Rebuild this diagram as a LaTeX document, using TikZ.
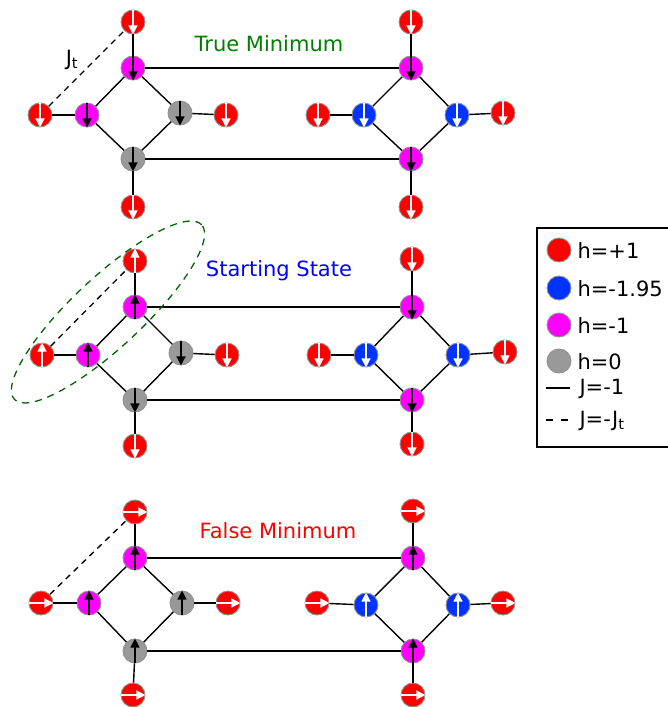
\documentclass[tikz,border=0pt]{standalone}
\usepackage{fontspec}
\setmainfont{DejaVu Sans}
\usetikzlibrary{arrows.meta}

\definecolor{hpos}{RGB}{255,0,0}
\definecolor{hblu}{RGB}{0,51,255}
\definecolor{hneg}{RGB}{255,0,255}
\definecolor{hnul}{RGB}{153,153,153}
\definecolor{rim}{RGB}{145,145,145}
\definecolor{truegreen}{RGB}{0,128,0}
\definecolor{loopgreen}{RGB}{0,100,0}

\tikzset{
  site/.style={circle, draw=rim, line width=0.9pt, minimum size=24pt, inner sep=0pt},
  site pos/.style={site, fill=hpos},
  site blu/.style={site, fill=hblu},
  site neg/.style={site, fill=hneg},
  site nul/.style={site, fill=hnul},
  spin/.style={line width=1.3pt, -{Triangle[length=9pt,width=9pt]}, shorten <=0.6pt},
  spin pos/.style={spin, white},
  spin blu/.style={spin, white},
  spin neg/.style={spin, black},
  spin nul/.style={spin, black},
  bond/.style={line width=1.4pt},
  tbond/.style={line width=1.3pt, dash pattern=on 6pt off 5pt},
  lbl/.style={font=\fontsize{21}{25}\selectfont}
}

\begin{document}
\begin{tikzpicture}[x=1pt, y=-1pt]
    \useasboundingbox (0,0) rectangle (668,707);

    % Sites and spins
    \foreach \n/\x/\y/\k/\a/\b in {
        TLa/133/22/pos/north/south, TLb/133/68/neg/north/south,
        TLc/40/115/pos/north/south, TLd/87/115/neg/north/south,
        TLe/180/113/nul/north/south, TLf/226/115/pos/north/south,
        TLg/133/159/nul/north/south, TLh/133/207/pos/north/south,
        TRa/411/22/pos/north/south, TRb/411/68/neg/north/south,
        TRc/318/115/pos/north/south, TRd/364/115/blu/north/south,
        TRe/457/115/blu/north/south, TRf/503/113/pos/north/south,
        TRg/411/159/neg/north/south, TRh/411/207/pos/north/south,
        SLa/135/261/pos/south/north, SLb/135/307/neg/south/north,
        SLc/42/355/pos/south/north, SLd/88/355/neg/south/north,
        SLe/181/353/nul/north/south, SLf/227/355/pos/north/south,
        SLg/135/400/nul/north/south, SLh/135/446/pos/north/south,
        SRa/412/259/pos/north/south, SRb/412/307/neg/north/south,
        SRc/319/355/pos/north/south, SRd/366/355/blu/north/south,
        SRe/458/355/blu/north/south, SRf/505/352/pos/north/south,
        SRg/412/400/neg/north/south, SRh/412/444/pos/north/south,
        FLa/135/512/pos/west/east, FLb/135/558/neg/south/north,
        FLc/41/603/pos/west/east, FLd/89/603/neg/south/north,
        FLe/182/603/nul/south/north, FLf/228/603/pos/west/east,
        FLg/135/651/nul/south/north, FLh/133/695/pos/west/east,
        FRa/413/511/pos/west/east, FRb/413/558/neg/south/north,
        FRc/317/603/pos/west/east, FRd/366/605/blu/south/north,
        FRe/458/605/blu/south/north, FRf/503/603/pos/west/east,
        FRg/413/651/neg/south/north, FRh/413/695/pos/west/east}
    {
        \node[site \k] (\n) at (\x,\y) {};
        \draw[spin \k] (\n.\a) -- (\n.\b);
    }

    % Bonds
    \foreach \p in {T,S,F} {
        \foreach \s in {L,R}
            \foreach \u/\v in {a/b,b/d,b/e,c/d,d/g,e/g,e/f,g/h}
                \draw[bond] (\p\s\u) -- (\p\s\v);
        \draw[bond] (\p Lb) -- (\p Rb);
        \draw[bond] (\p Lg) -- (\p Rg);
        \draw[tbond] (\p Lc) -- (\p La);
    }

    % Titles
    \node[lbl, text=truegreen] (ttrue) at (269,44) {True Minimum};
    \node[lbl, text=blue] (tstart) at (279,271) {Starting State};
    \node[lbl, text=red] (tfalse) at (278,531) {False Minimum};
    \node[lbl] (jt) at (72,60) {J\textsubscript{t}};

    % Flipped cluster
    \draw[loopgreen, line width=1.3pt, dash pattern=on 7pt off 6pt,
          rotate around={43:(108,312)}]
        (108,312) ellipse [x radius=128pt, y radius=35pt];

    % Legend
    \draw[line width=1.2pt] (537,228) rectangle (680,447);
    \foreach \n/\y/\k/\t in {lpos/250/pos/h=+1, lblu/288/blu/h=-1.95,
                             lneg/325/neg/h=-1, lnul/361/nul/h=0}
    {
        \node[site \k] (\n) at (559,\y) {};
        \node[lbl, anchor=west] (\n t) at (574,\y+1) {\t};
    }
    \coordinate (ja) at (546,388);
    \coordinate (jb) at (570,388);
    \draw[bond] (ja) -- (jb);
    \node[lbl, anchor=west] (jat) at (576,389) {J=-1};
    \coordinate (jc) at (546,420);
    \coordinate (jd) at (570,420);
    \draw[tbond, dash pattern=on 7pt off 8pt] (jc) -- (jd);
    \node[lbl, anchor=west] (jct) at (576,421) {J=-J\textsubscript{t}};
\end{tikzpicture}
\end{document}
